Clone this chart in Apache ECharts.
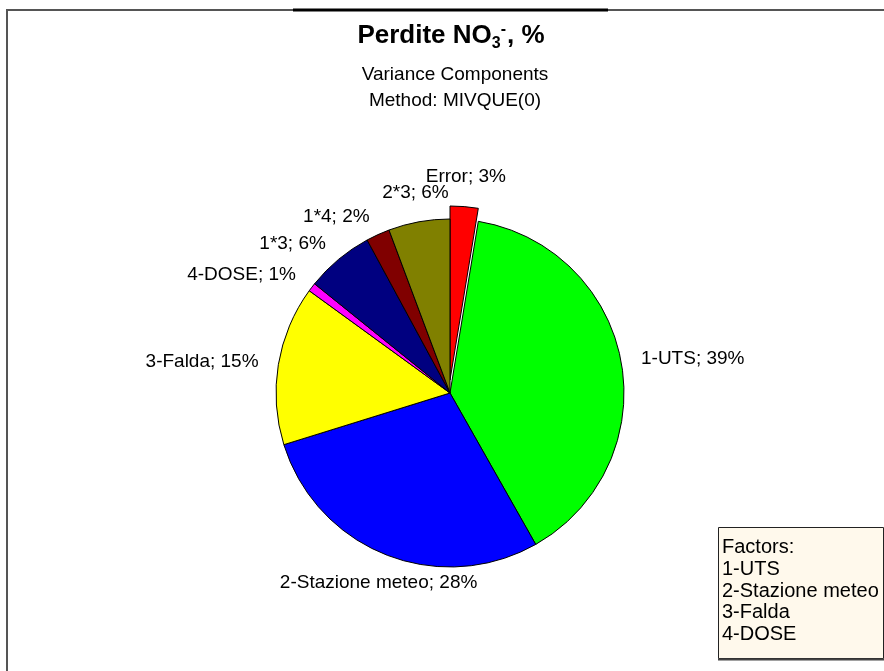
<!DOCTYPE html>
<html>
<head>
<meta charset="utf-8">
<script src="https://cdn.jsdelivr.net/npm/echarts@6/dist/echarts.min.js"></script>
<style>
html,body{margin:0;padding:0;background:#fff;}
#chart{width:884px;height:671px;}
</style>
</head>
<body>
<div id="chart"></div>
<script>
// ---- data ----
const categories = ['Error', '1-UTS', '2-Stazione meteo', '3-Falda', '4-DOSE', '1*3', '1*4', '2*3'];
const values = [2.6, 39.2, 28.4, 14.8, 0.8, 6.3, 2.2, 5.7];
const sliceColors = ['#ff0000', '#00ff00', '#0000ff', '#ffff00', '#ff00ff', '#000080', '#800000', '#808000'];
const explodedIndex = 0;
const titleText = 'Perdite NO';
const subtitleLines = ['Variance Components', 'Method: MIVQUE(0)'];
const factorLines = ['Factors:', '1-UTS', '2-Stazione meteo', '3-Falda', '4-DOSE'];

// ---- layout ----
const FONT = '"Liberation Sans", Arial, Helvetica, sans-serif';
const CX = 450, CY = 393, R = 174, GAP = 20, OFF = 13;
const total = values.reduce((a, b) => a + b, 0);
const mids = [];
(function () {
  let acc = 0;
  values.forEach(v => { mids.push((acc + v / 2) / total * 2 * Math.PI); acc += v; });
})();

const chart = echarts.init(document.getElementById('chart'), null, { renderer: 'canvas' });

const NONE = { color: 'rgba(0,0,0,0)', borderWidth: 0 };

// main pie: all slices, exploded slice drawn by second series
const mainData = categories.map((c, i) => ({
  name: c,
  value: values[i],
  itemStyle: i === explodedIndex ? NONE : { color: sliceColors[i] }
}));

// exploded slice: same angles, pie shifted upward
const explodedData = values.map((v, i) => ({
  name: categories[i],
  value: v,
  itemStyle: i === explodedIndex ? { color: sliceColors[i] } : NONE
}));

chart.setOption({
  backgroundColor: '#ffffff',
  animation: false,
  series: [{
    type: 'pie',
    center: [CX, CY - OFF],
    radius: [0, R],
    startAngle: 90,
    clockwise: true,
    silent: true,
    z: 2,
    itemStyle: { borderColor: '#000', borderWidth: 1 },
    emphasis: { disabled: true },
    label: { show: false },
    labelLine: { show: false },
    data: explodedData
  }, {
    type: 'pie',
    center: [CX, CY],
    radius: [0, R],
    startAngle: 90,
    clockwise: true,
    avoidLabelOverlap: false,
    silent: true,
    z: 3,
    itemStyle: { borderColor: '#000', borderWidth: 1 },
    emphasis: { disabled: true },
    label: {
      show: true,
      position: 'outside',
      fontFamily: FONT,
      fontSize: 19,
      color: '#000',
      formatter: p => p.name + '; ' + Math.round(p.value) + '%'
    },
    labelLine: { show: false },
    labelLayout: function (p) {
      const a = mids[p.dataIndex];
      const dx = Math.sin(a), dy = -Math.cos(a);
      const ax = CX + dx * (R + GAP);
      const ay = CY + dy * (R + GAP) - (p.dataIndex === explodedIndex ? OFF : 0);
      const w = p.labelRect.width, h = p.labelRect.height;
      let left, cy;
      if (Math.abs(dx) < 0.38) {
        left = ax - w / 2;
        cy = dy < 0 ? ay - h / 2 : ay + h / 2;
      } else {
        left = dx > 0 ? ax : ax - w;
        cy = ay;
      }
      return { x: left, y: cy, align: 'left', verticalAlign: 'middle' };
    },
    data: mainData
  }],
  graphic: [
    // outer frame
    { type: 'rect', silent: true, shape: { x: 7, y: 10, width: 900, height: 700 },
      style: { fill: null, stroke: '#555', lineWidth: 2 } },
    { type: 'line', silent: true, shape: { x1: 293, y1: 10, x2: 608, y2: 10 },
      style: { stroke: '#000', lineWidth: 3 } },
    // title
    { type: 'text', silent: true, x: 451, y: 36,
      style: {
        text: '{b|' + titleText + '}{sub|3}{sup|-}{b|, %}',
        align: 'center', verticalAlign: 'middle',
        rich: {
          b: { fontFamily: FONT, fontWeight: 'bold', fontSize: 26, lineHeight: 32, fill: '#000' },
          sub: { fontFamily: FONT, fontWeight: 'bold', fontSize: 16, lineHeight: 16, verticalAlign: 'bottom', fill: '#000' },
          sup: { fontFamily: FONT, fontWeight: 'bold', fontSize: 16, lineHeight: 16, verticalAlign: 'top', fill: '#000', padding: [2, 1, 0, 0] }
        }
      } },
    { type: 'text', silent: true, x: 455, y: 75,
      style: { text: subtitleLines[0], align: 'center', verticalAlign: 'middle', fontFamily: FONT, fontSize: 19, fill: '#000' } },
    { type: 'text', silent: true, x: 455, y: 101,
      style: { text: subtitleLines[1], align: 'center', verticalAlign: 'middle', fontFamily: FONT, fontSize: 19, fill: '#000' } },
    // factors box
    { type: 'rect', silent: true, shape: { x: 718.5, y: 527.5, width: 165, height: 131 },
      style: { fill: '#fff9ec', stroke: '#222', lineWidth: 1 } },
    { type: 'line', silent: true, shape: { x1: 718, y1: 659.5, x2: 884, y2: 659.5 },
      style: { stroke: '#444', lineWidth: 2 } },
    { type: 'text', silent: true, x: 722, y: 537,
      style: { text: factorLines.join('\n'), align: 'left', verticalAlign: 'top', fontFamily: FONT, fontSize: 20, lineHeight: 21.7, fill: '#000' } }
  ]
});
</script>
</body>
</html>
